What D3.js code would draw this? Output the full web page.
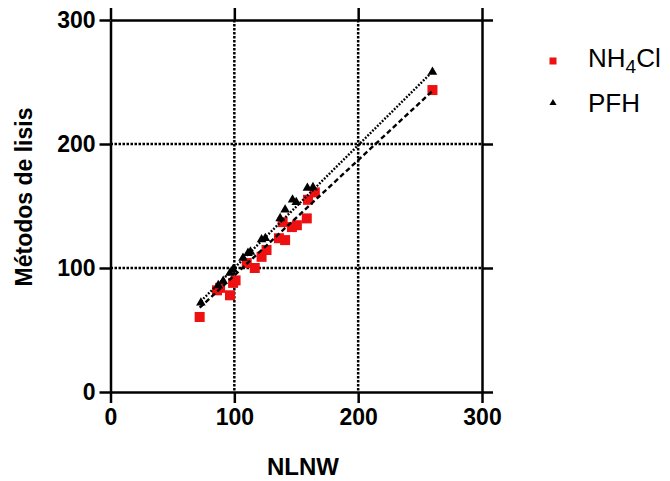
<!DOCTYPE html>
<html>
<head>
<meta charset="utf-8">
<script src="https://cdn.jsdelivr.net/npm/d3@7"></script>
<style>
  body { margin: 0; background: #fff; }
  svg { display: block; font-family: "Liberation Sans", Arial, sans-serif; }
  .axis path, .axis line { stroke: #000; stroke-width: 2.5; }
  .axis text { font-size: 23px; font-weight: bold; fill: #000; }
</style>
</head>
<body>
<svg id="chart" width="670" height="481"></svg>
<script>
// values
var xTicks = [0, 100, 200, 300];
var yTicks = [0, 100, 200, 300];

var nlnwNH4 = [72, 86, 88.5, 96.5, 99, 101, 110, 116.5, 122, 126, 136, 141, 139, 146.5, 150.5, 158.5, 159.5, 165, 260];
var nh4cl   = [60.5, 82, 84, 78, 88, 90, 104, 100, 109, 114.5, 124, 122.5, 137, 133, 134.5, 140, 155, 161, 243.5];

var nlnwPFH = [73, 87, 91, 96.5, 99, 107, 111, 113, 122, 125, 137, 141, 147, 150, 159, 163.5, 260];
var pfh     = [72, 86, 89.5, 96, 99, 108, 112, 113, 123, 124, 140, 147, 155, 153, 164.5, 165, 258];

// fitted lines [slope, intercept], as drawn in the picture
var fitNH4 = [0.93, 1];
var fitPFH = [0.99, 1];

var margin = {top: 20, right: 188, bottom: 89, left: 110.5},
    width = 670 - margin.left - margin.right,
    height = 481 - margin.top - margin.bottom;

var svg = d3.select("#chart")
    .append("g")
    .attr("transform", "translate(" + margin.left + "," + margin.top + ")");

var x = d3.scaleLinear().domain([0, 300]).range([0, width]);
var y = d3.scaleLinear().domain([0, 300]).range([height, 0]);

// dotted grid at 100 / 200
svg.selectAll(".vgrid")
    .data([100, 200])
    .enter().append("line")
    .attr("x1", function(d){ return x(d); })
    .attr("x2", function(d){ return x(d); })
    .attr("y1", 0).attr("y2", height)
    .attr("stroke", "#000").attr("stroke-width", 2.5)
    .attr("stroke-dasharray", "2.5,1.5");

svg.selectAll(".hgrid")
    .data([100, 200])
    .enter().append("line")
    .attr("y1", function(d){ return y(d); })
    .attr("y2", function(d){ return y(d); })
    .attr("x1", 0).attr("x2", width)
    .attr("stroke", "#000").attr("stroke-width", 2.5)
    .attr("stroke-dasharray", "2.5,1.5");

// axes on all four sides, ticks outward
svg.append("g").attr("class", "axis")
    .attr("transform", "translate(0," + height + ")")
    .call(d3.axisBottom(x).tickValues(xTicks).tickSize(11).tickSizeOuter(0).tickPadding(6));

svg.append("g").attr("class", "axis")
    .call(d3.axisLeft(y).tickValues(yTicks).tickSize(11).tickSizeOuter(0).tickPadding(4));

svg.append("g").attr("class", "axis")
    .call(d3.axisTop(x).tickValues(xTicks).tickSize(12).tickSizeOuter(0).tickFormat(""));

svg.append("g").attr("class", "axis")
    .attr("transform", "translate(" + width + ",0)")
    .call(d3.axisRight(y).tickValues(yTicks).tickSize(11).tickSizeOuter(0).tickFormat(""));

// points
var nh4Data = nlnwNH4.map(function(d, i){ return {x: d, y: nh4cl[i]}; });
var pfhData = nlnwPFH.map(function(d, i){ return {x: d, y: pfh[i]}; });

svg.selectAll(".sq")
    .data(nh4Data)
    .enter().append("rect")
    .attr("class", "sq")
    .attr("x", function(d){ return x(d.x) - 5; })
    .attr("y", function(d){ return y(d.y) - 5; })
    .attr("width", 10).attr("height", 10)
    .attr("fill", "#ee1111");

var tri = d3.symbol().type(d3.symbolTriangle).size(40);
svg.selectAll(".tri")
    .data(pfhData)
    .enter().append("path")
    .attr("class", "tri")
    .attr("d", tri)
    .attr("transform", function(d){ return "translate(" + x(d.x) + "," + y(d.y) + ")"; })
    .attr("fill", "#000");

// regression lines
function fitLine(fit, x0, x1) {
    return [{x: x0, y: fit[0] * x0 + fit[1]}, {x: x1, y: fit[0] * x1 + fit[1]}];
}
var line = d3.line().x(function(d){ return x(d.x); }).y(function(d){ return y(d.y); });

svg.append("path")
    .datum(fitLine(fitNH4, d3.min(nlnwNH4), d3.max(nlnwNH4)))
    .attr("d", line)
    .attr("fill", "none").attr("stroke", "#000").attr("stroke-width", 2.4)
    .attr("stroke-dasharray", "5,3");

svg.append("path")
    .datum(fitLine(fitPFH, d3.min(nlnwPFH), d3.max(nlnwPFH)))
    .attr("d", line)
    .attr("fill", "none").attr("stroke", "#000").attr("stroke-width", 2.4)
    .attr("stroke-dasharray", "1.8,1.6");

// axis titles
svg.append("text")
    .attr("x", 303 - margin.left)
    .attr("y", 475 - margin.top)
    .attr("text-anchor", "middle")
    .style("font-size", "24px").style("font-weight", "bold")
    .text("NLNW");

svg.append("text")
    .attr("transform", "translate(" + (32 - margin.left) + "," + (197 - margin.top) + ") rotate(-90)")
    .attr("text-anchor", "middle")
    .style("font-size", "23px").style("font-weight", "bold")
    .text("Métodos de lisis");

// legend
var legend = d3.select("#chart").append("g");
legend.append("rect")
    .attr("x", 549.5).attr("y", 57.5).attr("width", 7).attr("height", 7)
    .attr("fill", "#ee1111");
legend.append("path")
    .attr("d", d3.symbol().type(d3.symbolTriangle).size(22))
    .attr("transform", "translate(553,103)")
    .attr("fill", "#000");

var t1 = legend.append("text")
    .attr("x", 588).attr("y", 67)
    .style("font-size", "26px");
t1.append("tspan").text("NH");
t1.append("tspan").attr("dy", 6).style("font-size", "19px").text("4");
t1.append("tspan").attr("dy", -6).text("Cl");

legend.append("text")
    .attr("x", 588).attr("y", 112)
    .style("font-size", "26px")
    .text("PFH");
</script>
</body>
</html>
